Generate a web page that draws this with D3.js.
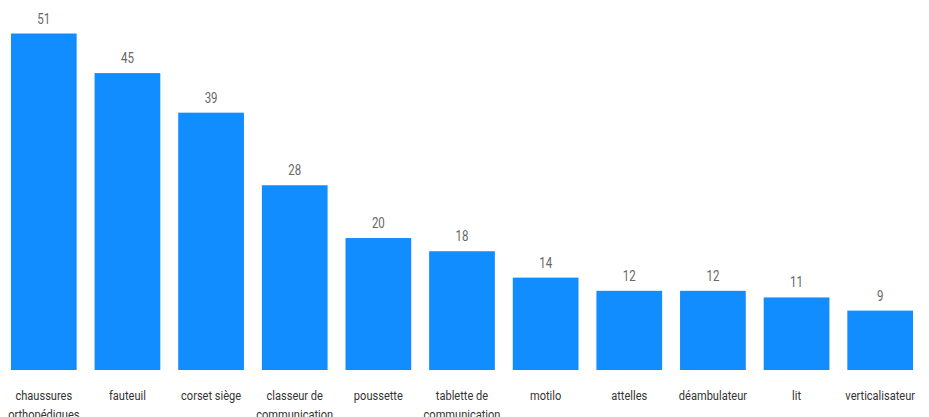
<!DOCTYPE html>
<html>
<head>
<meta charset="utf-8">
<script src="https://cdn.jsdelivr.net/npm/d3@7"></script>
<style>
  html, body { margin: 0; padding: 0; background: #ffffff; }
  svg { display: block; }
  text { font-family: "Roboto", "Liberation Sans", sans-serif; }
</style>
</head>
<body>
<div id="chart"></div>
<script>
const categories = ["chaussures orthopédiques", "fauteuil", "corset siège", "classeur de communication", "poussette", "tablette de communication", "motilo", "attelles", "déambulateur", "lit", "verticalisateur"];
const values = [51, 45, 39, 28, 20, 18, 14, 12, 12, 11, 9];

const W = 929, H = 417;
const SX = 0.82; // horizontal compression of text to mimic the narrow UI font
const svg = d3.select("#chart").append("svg").attr("width", W).attr("height", H);

const x = d3.scaleBand().domain(categories).range([2, 922]).paddingInner(0.2143).paddingOuter(0.107);
const y = d3.scaleLinear().domain([0, d3.max(values)]).range([370, 33.5]);

const data = categories.map((c, i) => ({ c, v: values[i] }));

svg.selectAll("rect.bar").data(data).join("rect")
  .attr("class", "bar")
  .attr("x", d => x(d.c))
  .attr("y", d => y(d.v))
  .attr("width", x.bandwidth())
  .attr("height", d => y(0) - y(d.v))
  .attr("fill", "#118DFF");

svg.selectAll("g.val").data(data).join("g")
  .attr("class", "val")
  .attr("transform", d => `translate(${x(d.c) + x.bandwidth() / 2},${y(d.v) - 10}) scale(${SX},1)`)
  .append("text")
  .attr("text-anchor", "middle")
  .attr("font-size", 14)
  .attr("fill", "#666666")
  .text(d => d.v);

// x axis labels (wrapped)
const xAxis = d3.axisBottom(x).tickSize(0).tickPadding(0);
const gx = svg.append("g").attr("transform", "translate(0,370)").call(xAxis);
gx.select(".domain").remove();
gx.selectAll(".tick text")
  .attr("font-size", 13.5)
  .attr("fill", "#333333")
  .style("font-family", '"Roboto", "Liberation Sans", sans-serif')
  .attr("transform", `scale(${SX},1)`)
  .attr("y", 0)
  .attr("dy", null)
  .each(function(d) {
    const t = d3.select(this);
    const words = d.split(" ");
    const maxW = (x.step() - 4) / SX;
    const lines = [];
    let cur = [];
    t.text(null);
    const probe = t.append("tspan");
    words.forEach(w => {
      const test = cur.concat([w]).join(" ");
      probe.text(test);
      if (probe.node().getComputedTextLength() > maxW && cur.length) {
        lines.push(cur.join(" "));
        cur = [w];
      } else {
        cur.push(w);
      }
    });
    lines.push(cur.join(" "));
    probe.remove();
    lines.forEach((l, i) => {
      t.append("tspan").attr("x", 0).attr("y", 30 + i * 19.5).text(l);
    });
  });
</script>
</body>
</html>
